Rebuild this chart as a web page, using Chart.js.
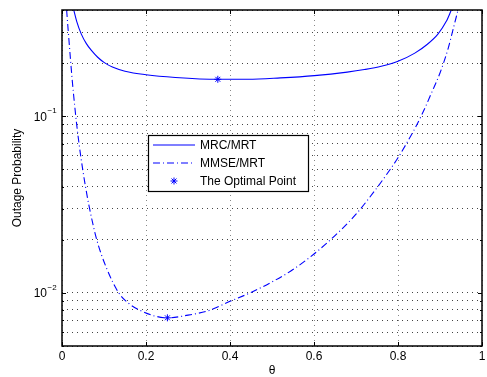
<!DOCTYPE html>
<html>
<head>
<meta charset="utf-8">
<script src="https://cdn.jsdelivr.net/npm/chart.js@4"></script>
<style>
  html, body { margin: 0; padding: 0; background: #fff; }
  canvas { display: block; }
</style>
</head>
<body>
<canvas id="outage-chart" width="487" height="377"></canvas>
<script>
// Data
const mrcTheta  = [0.028, 0.035, 0.046, 0.058, 0.070, 0.085, 0.100, 0.120, 0.150, 0.200, 0.270, 0.371, 0.443, 0.520, 0.601, 0.679, 0.720, 0.760, 0.800, 0.840, 0.870, 0.895, 0.915, 0.927];
const mrcOutage = [0.400, 0.345, 0.292, 0.258, 0.236, 0.216, 0.202, 0.190, 0.180, 0.172, 0.166, 0.162, 0.162, 0.165, 0.170, 0.178, 0.184, 0.192, 0.205, 0.228, 0.256, 0.292, 0.345, 0.400];

const mmseTheta  = [0.011, 0.015, 0.020, 0.025, 0.030, 0.035, 0.040, 0.045, 0.050, 0.056, 0.064, 0.082, 0.105, 0.135, 0.160, 0.190, 0.220, 0.251, 0.300, 0.350, 0.400, 0.450, 0.500, 0.550, 0.600, 0.650, 0.700, 0.750, 0.780, 0.800, 0.820, 0.840, 0.860, 0.880, 0.900, 0.920, 0.931, 0.943];
const mmseOutage = [0.400, 0.301, 0.213, 0.154, 0.116, 0.0897, 0.0717, 0.0586, 0.0488, 0.0399, 0.0314, 0.0203, 0.0140, 0.0100, 0.00867, 0.00787, 0.00740, 0.00722, 0.00748, 0.00794, 0.00895, 0.01005, 0.01153, 0.01355, 0.0166, 0.0211, 0.0279, 0.0394, 0.0495, 0.0582, 0.0700, 0.0851, 0.106, 0.136, 0.176, 0.245, 0.310, 0.400];

const optTheta  = [0.371, 0.251];
const optOutage = [0.162, 0.00722];

const xTicks = [0, 0.2, 0.4, 0.6, 0.8, 1];
const xTickLabels = ["0", "0.2", "0.4", "0.6", "0.8", "1"];
const yMajor = [0.01, 0.1];
const yMajorExp = ["\u22122", "\u22121"];
const yGrid = [0.005, 0.006, 0.007, 0.008, 0.009, 0.01, 0.02, 0.03, 0.04, 0.05, 0.06, 0.07, 0.08, 0.09, 0.1, 0.2, 0.3, 0.4];

const legendLabels = ["MRC/MRT", "MMSE/MRT", "The Optimal Point"];

const blue = "#0000ff";
const font = "Liberation Sans, Arial, Helvetica, sans-serif";
const dashDot = [7, 3, 1, 3];

function pairs(xs, ys) {
  return xs.map((x, i) => ({ x: x, y: ys[i] }));
}

// Frame, ticks, labels and legend the MATLAB way
const matlabAxes = {
  id: "matlabAxes",
  afterDraw(chart) {
    const ctx = chart.ctx;
    const a = chart.chartArea;
    const xs = chart.scales.x;
    const ys = chart.scales.y;
    ctx.save();

    // tick marks inside the box
    ctx.strokeStyle = "#000";
    ctx.lineWidth = 1;
    ctx.beginPath();
    xTicks.forEach((v) => {
      const px = Math.round(xs.getPixelForValue(v)) + 0.5;
      ctx.moveTo(px, a.bottom); ctx.lineTo(px, a.bottom - 4);
      ctx.moveTo(px, a.top); ctx.lineTo(px, a.top + 4);
    });
    yGrid.forEach((v) => {
      const py = Math.round(ys.getPixelForValue(v)) + 0.5;
      const len = yMajor.includes(v) ? 4 : 2;
      ctx.moveTo(a.left, py); ctx.lineTo(a.left + len, py);
      ctx.moveTo(a.right, py); ctx.lineTo(a.right - len, py);
    });
    ctx.stroke();

    // box
    ctx.lineWidth = 1.5;
    ctx.strokeRect(a.left, a.top, a.right - a.left, a.bottom - a.top);

    // x tick labels
    ctx.fillStyle = "#000";
    ctx.font = "12px " + font;
    ctx.textAlign = "center";
    ctx.textBaseline = "middle";
    xTicks.forEach((v, i) => {
      ctx.fillText(xTickLabels[i], xs.getPixelForValue(v), a.bottom + 11);
    });

    // y tick labels 10^k
    yMajor.forEach((v, i) => {
      const py = ys.getPixelForValue(v);
      ctx.font = "12px " + font;
      ctx.textAlign = "right";
      ctx.textBaseline = "middle";
      ctx.fillText("10", 47, py + 1);
      ctx.font = "8px " + font;
      ctx.textAlign = "left";
      ctx.fillText(yMajorExp[i], 47.5, py - 5);
    });

    // axis titles
    ctx.font = "12px " + font;
    ctx.textAlign = "center";
    ctx.textBaseline = "middle";
    ctx.fillText("\u03b8", (a.left + a.right) / 2, 371);
    ctx.translate(18, (a.top + a.bottom) / 2);
    ctx.rotate(-Math.PI / 2);
    ctx.fillText("Outage Probability", 0, 0);
    ctx.setTransform(1, 0, 0, 1, 0, 0);

    // legend
    const lx = 148, ly = 135, lw = 160, lh = 56;
    ctx.fillStyle = "#fff";
    ctx.fillRect(lx, ly, lw, lh);
    ctx.strokeStyle = "#000";
    ctx.lineWidth = 1.2;
    ctx.strokeRect(lx + 0.5, ly + 0.5, lw, lh);
    const rows = [145, 163, 181];
    ctx.strokeStyle = blue;
    ctx.lineWidth = 1.1;
    ctx.beginPath();
    ctx.moveTo(lx + 5, rows[0]); ctx.lineTo(lx + 47, rows[0]);
    ctx.stroke();
    ctx.setLineDash(dashDot);
    ctx.beginPath();
    ctx.moveTo(lx + 5, rows[1]); ctx.lineTo(lx + 47, rows[1]);
    ctx.stroke();
    ctx.setLineDash([]);
    ctx.lineWidth = 1;
    Chart.helpers.drawPoint(ctx, { pointStyle: "star", radius: 3.5, rotation: 0, borderWidth: 1 }, lx + 26, rows[2]);
    ctx.fillStyle = "#000";
    ctx.font = "12px " + font;
    ctx.textAlign = "left";
    ctx.textBaseline = "middle";
    legendLabels.forEach((t, i) => ctx.fillText(t, lx + 52, rows[i] + 1));

    ctx.restore();
  }
};

const ctx = document.getElementById("outage-chart").getContext("2d");
const outageChart = new Chart(ctx, {
  type: "line",
  data: {
    datasets: [
      {
        label: legendLabels[0],
        data: pairs(mrcTheta, mrcOutage),
        borderColor: blue,
        borderWidth: 1.1,
        pointRadius: 0,
        cubicInterpolationMode: "monotone",
        fill: false,
      },
      {
        label: legendLabels[1],
        data: pairs(mmseTheta, mmseOutage),
        borderColor: blue,
        borderWidth: 1.1,
        borderDash: dashDot,
        pointRadius: 0,
        cubicInterpolationMode: "monotone",
        fill: false,
      },
      {
        label: legendLabels[2],
        data: pairs(optTheta, optOutage),
        showLine: false,
        pointStyle: "star",
        pointRadius: 3.5,
        pointBorderColor: blue,
        pointBorderWidth: 1,
        pointBackgroundColor: blue,
      },
    ],
  },
  options: {
    responsive: false,
    devicePixelRatio: 1,
    animation: false,
    layout: { padding: { left: 62, right: 0, top: 10, bottom: 31 } },
    plugins: {
      legend: { display: false },
      tooltip: { enabled: false },
    },
    scales: {
      x: {
        type: "linear",
        min: 0,
        max: 1,
        afterBuildTicks: (scale) => { scale.ticks = xTicks.map((v) => ({ value: v })); },
        ticks: { display: false },
        border: { display: false, dash: [1, 4] },
        grid: { color: "#888", lineWidth: 1, drawTicks: false },
      },
      y: {
        type: "logarithmic",
        min: 0.005,
        max: 0.4,
        afterBuildTicks: (scale) => { scale.ticks = yGrid.map((v) => ({ value: v })); },
        ticks: { display: false },
        border: { display: false, dash: [1, 4] },
        grid: { color: "#444", lineWidth: 1, drawTicks: false },
      },
    },
  },
  plugins: [matlabAxes],
});
</script>
</body>
</html>
